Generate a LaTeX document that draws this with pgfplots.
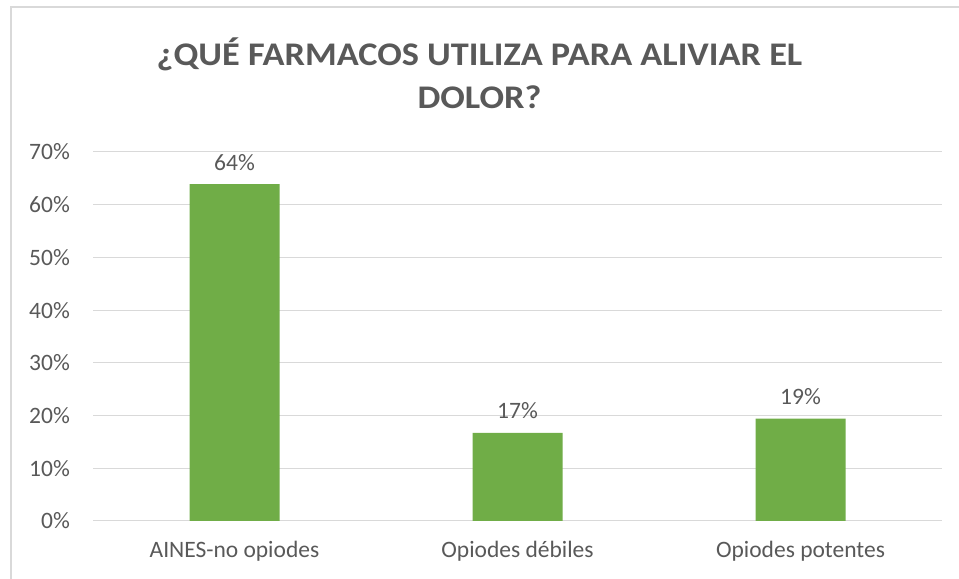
\documentclass[border=0pt]{standalone}
\usepackage{fontspec}
\setmainfont{Carlito}
\newfontfamily\titlefont{Carlito}[FakeStretch=1.1]
\usepackage{pgfplots}
\pgfplotsset{compat=1.18}
\definecolor{txt}{HTML}{595959}
\definecolor{grd}{HTML}{D9D9D9}
\definecolor{barc}{HTML}{70AD47}
\begin{document}
\begin{tikzpicture}[x=1bp,y=1bp]
\useasboundingbox (0,0) rectangle (959,579);
\fill[white] (0,0) rectangle (959,579);
\draw[grd, line width=1.5bp] (11,0) -- (11,572) -- (959,572);
\node[font=\titlefont\fontsize{33bp}{38bp}\selectfont\bfseries, text=txt, anchor=base, inner sep=0] at (479.5,513) {¿QUÉ FARMACOS UTILIZA PARA ALIVIAR EL};
\node[font=\titlefont\fontsize{33bp}{38bp}\selectfont\bfseries, text=txt, anchor=base, inner sep=0] at (479.5,470) {DOLOR?};
\begin{axis}[
  at={(93bp,58bp)}, anchor=south west,
  scale only axis, width=849bp, height=369bp,
  ymin=0, ymax=70, xmin=-0.5, xmax=2.5,
  ytick={0,10,...,70},
  xtick={0,1,2},
  xticklabels={AINES-no opiodes, Opiodes débiles, Opiodes potentes},
  /pgf/number format/assume math mode=true,
  yticklabel={\pgfmathprintnumber{\tick}\%},
  axis line style={draw=none},
  major tick length=0pt,
  tick style={draw=none},
  ymajorgrids,
  grid style={grd, line width=1bp},
  ticklabel style={font=\fontsize{23.5bp}{27bp}\selectfont, text=txt, inner sep=0pt},
  yticklabel style={anchor=east, xshift=-23bp},
  xticklabel style={anchor=base, yshift=-37bp},
  ybar, bar width=90bp,
  nodes near coords={\pgfmathprintnumber[fixed,precision=0]{\pgfplotspointmeta}\%},
  nodes near coords style={font=\fontsize{23.5bp}{27bp}\selectfont, text=txt, inner sep=0pt, anchor=base, yshift=14bp},
  clip=false,
]
\addplot[fill=barc, draw=none] coordinates {(0,63.9) (1,16.7) (2,19.4)};
\end{axis}
\end{tikzpicture}
\end{document}
